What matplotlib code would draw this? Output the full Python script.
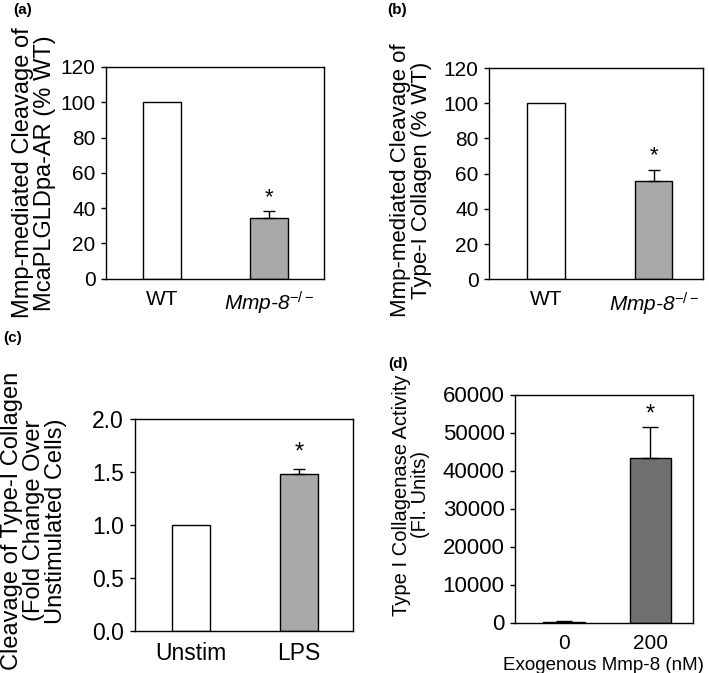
import matplotlib
matplotlib.use("Agg")
import matplotlib.pyplot as plt
import numpy as np

plt.rcParams['font.family'] = ['Liberation Sans', 'DejaVu Sans']
plt.rcParams['mathtext.fontset'] = 'custom'
plt.rcParams['mathtext.rm'] = 'Liberation Sans'
plt.rcParams['mathtext.it'] = 'Liberation Sans:italic'

# ---- data ----
a_cats = ['WT', 'Mmp-8$^{-/-}$']
a_vals = [100, 34.2]
a_err = [0, 4.3]

b_cats = ['WT', 'Mmp-8$^{-/-}$']
b_vals = [100, 56]
b_err = [0, 5.9]

c_cats = ['Unstim', 'LPS']
c_vals = [1.0, 1.48]
c_err = [0, 0.05]

d_cats = ['0', '200']
d_vals = [60, 43300]
d_err = [250, 8200]

W, H = 709, 673
fig = plt.figure(figsize=(W / 100, H / 100), dpi=100)


def axes_px(l, r, t, b):
    return fig.add_axes([l / W, (H - b) / H, (r - l) / W, (b - t) / H])


def style(ax, tick_fs):
    for s in ax.spines.values():
        s.set_linewidth(1.0)
        s.set_color('black')
    ax.tick_params(axis='y', direction='out', length=3.5, width=1.0,
                   labelsize=tick_fs, pad=4)
    ax.tick_params(axis='x', length=0, labelsize=tick_fs, pad=8)


def panel(ax, cats, vals, errs, colors, width, xlim, ylim, yticks, fmt,
          star_y, star_fs, caps):
    x = np.arange(len(cats))
    ax.bar(x, vals, width=width, color=colors, edgecolor='black',
           linewidth=1.0, zorder=2)
    for xi, v, e in zip(x, vals, errs):
        if e > 0:
            ax.errorbar([xi], [v], yerr=[[0], [e]], fmt='none',
                        ecolor='black', elinewidth=1.0, capsize=caps,
                        capthick=1.0, zorder=3)
    ax.set_xlim(*xlim)
    ax.set_ylim(*ylim)
    ax.set_yticks(yticks)
    ax.set_yticklabels([fmt.format(t) for t in yticks])
    ax.set_xticks(x)
    ax.set_xticklabels(cats)
    ax.text(x[-1], star_y, '*', ha='center', va='center', fontsize=star_fs)


# ---- (a) ----
axa = axes_px(106, 324, 67, 278.5)
style(axa, 15)
panel(axa, a_cats, a_vals, a_err, ['white', '#a9a9a9'], 0.35,
      (-0.52, 1.51), (0, 120), np.arange(0, 121, 20), '{:.0f}', 46, 16, 4.5)
axa.get_xticklabels()[1].set_fontstyle('italic')
axa.set_ylabel('Mmp-mediated Cleavage of\nMcaPLGLDpa-AR (% WT)',
               fontsize=17, va='center', linespacing=1.0)
axa.yaxis.set_label_coords(-0.33, 0.5)

# ---- (b) ----
axb = axes_px(489, 703, 68, 279.3)
style(axb, 15)
panel(axb, b_cats, b_vals, b_err, ['white', '#a9a9a9'], 0.345,
      (-0.53, 1.46), (0, 120), np.arange(0, 121, 20), '{:.0f}', 70, 16, 4.5)
axb.get_xticklabels()[1].set_fontstyle('italic')
axb.set_ylabel('Mmp-mediated Cleavage of\nType-I Collagen (% WT)',
               fontsize=16, va='center', linespacing=1.0)
axb.yaxis.set_label_coords(-0.364, 0.47)

# ---- (c) ----
axc = axes_px(134.5, 353, 419, 631)
style(axc, 16.5)
panel(axc, c_cats, c_vals, c_err, ['white', '#a9a9a9'], 0.35,
      (-0.52, 1.5), (0, 2.0), np.arange(0, 2.01, 0.5), '{:.1f}', 1.68, 17, 4.5)
axc.set_ylabel('Cleavage of Type-I Collagen\n(Fold Change Over\nUnstimulated Cells)',
               fontsize=17, va='center', linespacing=1.0)
axc.yaxis.set_label_coords(-0.46, 0.52)

# ---- (d) ----
axd = axes_px(515, 692.5, 394.5, 622.5)
style(axd, 16)
axd.tick_params(axis='x', labelsize=15)
panel(axd, d_cats, d_vals, d_err, ['#707070', '#707070'], 0.48,
      (-0.57, 1.49), (0, 60000), np.arange(0, 60001, 10000), '{:.0f}',
      54700, 17, 6)
axd.set_ylabel('Type I Collagenase Activity\n(Fl. Units)',
               fontsize=14.5, va='center', linespacing=1.0)
axd.yaxis.set_label_coords(-0.586, 0.56)
axd.set_xlabel('Exogenous Mmp-8 (nM)', fontsize=13.5, va='center')
axd.xaxis.set_label_coords(0.5, -0.19)

# ---- panel letters ----
for lab, px, py in [('(a)', 13, 10), ('(b)', 387, 10), ('(c)', 3, 338),
                    ('(d)', 388, 364)]:
    fig.text(px / W, 1 - py / H, lab, fontsize=11, fontweight='bold',
             ha='left', va='center')

fig.savefig('out.png', dpi=100)
